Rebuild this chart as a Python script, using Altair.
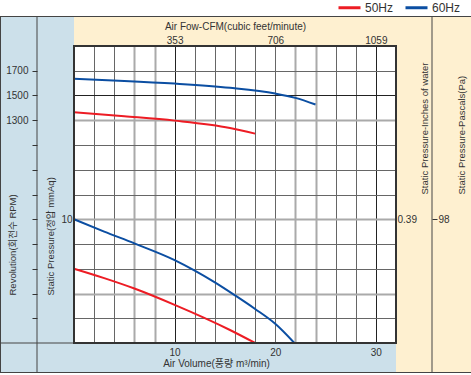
import altair as alt
import pandas as pd

# ---------------- data ----------------
series = ["50Hz", "60Hz"]
line_colors = ["#ED1C24", "#0B4EA2"]

# Static pressure (mmAq) vs air volume (m3/min)
press50_q = [0, 3, 6, 10, 15.5, 18]
press50_p = [6.0, 5.24, 4.4, 3.08, 1.05, 0.0]
press60_q = [0, 3, 6, 10, 12, 14, 16, 18, 20, 21.9]
press60_p = [10.0, 9.0, 8.05, 6.7, 5.85, 4.9, 3.85, 2.75, 1.55, 0.0]

# Revolution (RPM) vs air volume (m3/min)
rpm50_q = [0, 5, 10, 15.5, 18]
rpm50_r = [1364, 1332, 1297, 1238, 1192]
rpm60_q = [0, 5, 10, 15.5, 20, 22, 24]
rpm60_r = [1635, 1618, 1596, 1562, 1516, 1481, 1427]

# axis values / tick labels
q_grid = list(range(0, 33, 2))
q_labels = [10, 20, 30]
cfm_labels = [353, 706, 1059]
p_grid = list(range(0, 25, 2))
p_labels = [10]
rpm_ticks = list(range(-300, 1701, 200))
rpm_labels = [1300, 1500, 1700]
inch_labels = [0.39]
pa_labels = [98]

# scale domains (all share one grid)
Q_MAX, P_MAX = 32, 24
q_dom = [0, Q_MAX]
p_dom = [0, P_MAX]
rpm_dom = [1700 - 22 * 100, 1700 + 2 * 100]
cfm_dom = [0, Q_MAX * 353 / 10]
inch_dom = [0, P_MAX * 0.39 / 10]
pa_dom = [0, P_MAX * 98 / 10]

# ---------------- style ----------------
W, H = 322, 297
FONT = "Liberation Sans, Noto Sans CJK KR, sans-serif"
TXT = "#333333"
BLUE_BG = "#CCE0EA"
CREAM_BG = "#FEF0D0"
LINE = "#444444"
VT = 9.5  # vertical title size

dark_q, light_q = [0, 10, 30, 32], [6, 8, 22, 24]
dark_p, light_p = [0, 20, 24], [4, 10, 18]


def in_list(vals):
    return "indexof([" + ",".join(str(v) for v in vals) + "], datum.value) >= 0"


def grid_color(dark, light):
    return {"condition": [{"test": in_list(dark), "value": "#222222"},
                          {"test": in_list(light), "value": "#AAAAAA"}],
            "value": "#666666"}


def grid_width(light):
    return {"condition": {"test": in_list(light), "value": 2}, "value": 1}


press_df = pd.DataFrame(
    {"q": press50_q + press60_q,
     "p": press50_p + press60_p,
     "s": [series[0]] * len(press50_q) + [series[1]] * len(press60_q)})
rpm_df = pd.DataFrame(
    {"q": rpm50_q + rpm60_q,
     "r": rpm50_r + rpm60_r,
     "s": [series[0]] * len(rpm50_q) + [series[1]] * len(rpm60_q)})

one = pd.DataFrame({"k": [0]})


def panel(x0, x1, y0, y1, color):
    return alt.Chart(one).mark_rect(color=color, strokeWidth=0).encode(
        x=alt.value(x0), x2=alt.value(x1), y=alt.value(y0), y2=alt.value(y1))


def hline(x0, x1, y, w=1):
    return alt.Chart(one).mark_rule(color=LINE, strokeWidth=w).encode(
        x=alt.value(x0), x2=alt.value(x1), y=alt.value(y))


def vline(x, y0, y1, w=1):
    return alt.Chart(one).mark_rule(color=LINE, strokeWidth=w).encode(
        x=alt.value(x), y=alt.value(y0), y2=alt.value(y1))


color_enc = alt.Color(
    "s:N", scale=alt.Scale(domain=series, range=line_colors),
    legend=alt.Legend(orient="none", legendX=263, legendY=-51, direction="horizontal",
                      title=None, symbolType="stroke", symbolSize=484,
                      symbolStrokeWidth=3, labelFontSize=12, labelOffset=3,
                      columnPadding=5, padding=0, labelColor=TXT, labelFont=FONT))

# background panels and frame lines
backgrounds = [
    panel(-74, 0, -30, 297, BLUE_BG),
    panel(-74, 322, 297, 327, BLUE_BG),
    panel(0, 322, -30, 0, CREAM_BG),
    panel(322, 397, -30, 327, CREAM_BG),
    hline(-74, 397, -29.5),
    hline(-74, 397, 326.5),
    vline(-73.5, -30, 327),
    vline(-37, -30, 327),
    hline(-74, 0, 297),
    vline(358, -30, 327),
]

# pressure curves, carrying the grid
press = alt.Chart(press_df).mark_line(strokeWidth=2, interpolate="monotone").encode(
    x=alt.X("q:Q", scale=alt.Scale(domain=q_dom, nice=False, zero=False),
            axis=alt.Axis(orient="bottom", values=q_grid, grid=True, labels=False,
                          ticks=False, domain=False, title=None, zindex=0,
                          gridColor=grid_color(dark_q, light_q),
                          gridWidth=grid_width(light_q))),
    y=alt.Y("p:Q", scale=alt.Scale(domain=p_dom, nice=False, zero=False),
            axis=alt.Axis(orient="left", values=p_grid, grid=True, labels=False,
                          ticks=False, domain=False, title=None, zindex=0,
                          gridColor=grid_color(dark_p, light_p),
                          gridWidth=grid_width(light_p))),
    color=color_enc,
    detail="s:N",
)

# revolution curves with RPM axis
rpm = alt.Chart(rpm_df).mark_line(strokeWidth=2, interpolate="monotone").encode(
    x=alt.X("q:Q", scale=alt.Scale(domain=q_dom, nice=False, zero=False), axis=None),
    y=alt.Y("r:Q", scale=alt.Scale(domain=rpm_dom, nice=False, zero=False),
            axis=alt.Axis(orient="left", offset=37, values=rpm_ticks, grid=False,
                          domain=False, ticks=True, tickSize=5, tickColor=TXT,
                          format="d",
                          labelExpr=in_list(rpm_labels) + " ? datum.label : ''",
                          labelPadding=4, zindex=1,
                          title="Revolution(회전수 RPM)", titleAngle=270,
                          titleFontSize=VT,
                          titleAlign="left", titleBaseline="alphabetic",
                          titleX=-22, titleY=249)),
    color=alt.Color("s:N", scale=alt.Scale(domain=series, range=line_colors), legend=None),
    detail="s:N",
)

# bottom axis labels (m3/min)
bottom_ax = alt.Chart(pd.DataFrame({"v": q_labels})).mark_point(opacity=0).encode(
    x=alt.X("v:Q", scale=alt.Scale(domain=q_dom, nice=False, zero=False),
            axis=alt.Axis(orient="bottom", values=q_labels, grid=False, domain=False,
                          ticks=False, tickSize=0, labelPadding=12, format="d",
                          labelBaseline="alphabetic", zindex=1,
                          title="Air Volume(풍량 m³/min)", titleX=142, titleY=23,
                          titleAlign="center", titleBaseline="alphabetic")))

# top axis labels (CFM)
top_ax = alt.Chart(pd.DataFrame({"v": cfm_labels})).mark_point(opacity=0).encode(
    x=alt.X("v:Q", scale=alt.Scale(domain=cfm_dom, nice=False, zero=False),
            axis=alt.Axis(orient="top", values=cfm_labels, grid=False, domain=False,
                          ticks=False, tickSize=0, labelPadding=3, format="d",
                          labelBaseline="alphabetic", zindex=1,
                          title="Air Fow-CFM(cubic feet/minute)", titleX=161, titleY=-17,
                          titleAlign="center", titleBaseline="alphabetic")))

# left pressure labels (mmAq)
left_ax = alt.Chart(pd.DataFrame({"v": p_labels})).mark_point(opacity=0).encode(
    y=alt.Y("v:Q", scale=alt.Scale(domain=p_dom, nice=False, zero=False),
            axis=alt.Axis(orient="left", values=p_labels, grid=False, domain=False,
                          ticks=False, tickSize=0, labelPadding=2, zindex=1,
                          format="d",
                          title="Static Pressure(정압 mmAq)", titleAngle=270,
                          titleFontSize=VT,
                          titleAlign="left", titleBaseline="alphabetic",
                          titleX=-21, titleY=249)))

# right axis: inches of water
inch_ax = alt.Chart(pd.DataFrame({"v": inch_labels})).mark_point(opacity=0).encode(
    y=alt.Y("v:Q", scale=alt.Scale(domain=inch_dom, nice=False, zero=False),
            axis=alt.Axis(orient="right", values=inch_labels, grid=False, domain=False,
                          ticks=False, tickSize=0, labelPadding=1, zindex=1,
                          format=".2f",
                          title="Static Pressure-Inches of water", titleAngle=270,
                          titleFontSize=VT,
                          titleAlign="left", titleBaseline="alphabetic",
                          titleX=31, titleY=148)))

# right axis: pascals
pa_ax = alt.Chart(pd.DataFrame({"v": pa_labels})).mark_point(opacity=0).encode(
    y=alt.Y("v:Q", scale=alt.Scale(domain=pa_dom, nice=False, zero=False),
            axis=alt.Axis(orient="right", offset=36, values=pa_labels, grid=False,
                          domain=False, ticks=True, tickSize=5, tickColor=TXT,
                          labelPadding=1, zindex=1, format="d",
                          title="Static Pressure-Pascals(Pa)", titleAngle=270,
                          titleFontSize=VT,
                          titleAlign="left", titleBaseline="alphabetic",
                          titleX=32, titleY=148)))

frame = alt.Chart(one).mark_rect(fillOpacity=0, stroke="#333333", strokeWidth=2).encode(
    x=alt.value(0), x2=alt.value(W), y=alt.value(0), y2=alt.value(H))

chart = alt.layer(
    *backgrounds, press, rpm, bottom_ax, top_ax, left_ax, inch_ax, pa_ax, frame
).resolve_scale(
    x="independent", y="independent", color="shared"
).properties(
    width=W, height=H,
    autosize=alt.AutoSizeParams(type="none"),
    padding={"left": 74, "top": 46, "right": 75, "bottom": 32},
    background="white",
).configure_view(
    stroke=None
).configure_axis(
    labelFont=FONT, titleFont=FONT, labelColor=TXT, titleColor=TXT,
    labelFontSize=10, titleFontSize=10, titleFontWeight="normal",
)

chart.save("out.html", embed_options={"renderer": "svg", "actions": False})
